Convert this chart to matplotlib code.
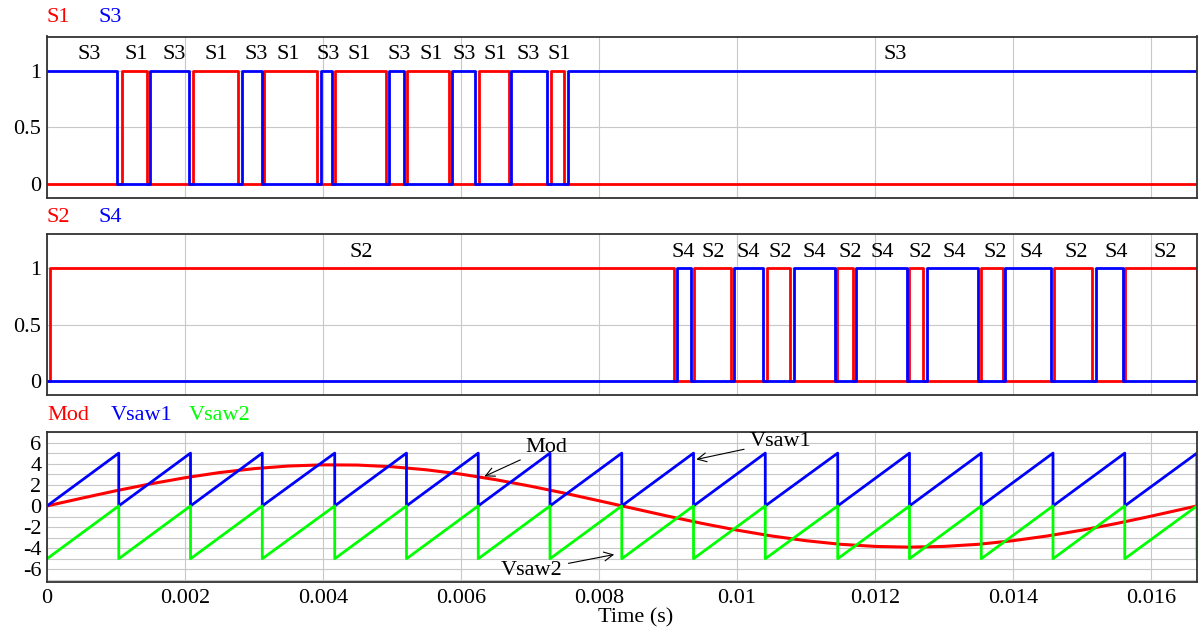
import numpy as np
import matplotlib.pyplot as plt
from matplotlib.ticker import MultipleLocator, FormatStrFormatter

plt.rcParams['font.family'] = ['Liberation Serif', 'DejaVu Serif']
plt.rcParams['axes.unicode_minus'] = False

T_END = 0.016667

# switching edges (s), level toggles at each edge
s1_edges = [0.00108, 0.00145, 0.00212, 0.00277, 0.00315, 0.00391, 0.00418, 0.00491,
            0.00522, 0.00582, 0.00626, 0.00669, 0.00731, 0.00750]
s3_edges = [0.00101, 0.00150, 0.00206, 0.00282, 0.00311, 0.00397, 0.00413, 0.00496,
            0.00517, 0.00587, 0.00621, 0.00673, 0.00725, 0.00755]
s2_edges = [0.00005, 0.00908, 0.00937, 0.00991, 0.01043, 0.01077, 0.01145, 0.01168,
            0.01250, 0.01269, 0.01354, 0.01385, 0.01460, 0.01515, 0.01563, 0.016667]
s4_edges = [0.00913, 0.00933, 0.00995, 0.01038, 0.01082, 0.01142, 0.01173, 0.01246,
            0.01275, 0.01350, 0.01389, 0.01455, 0.01520, 0.01559]
s1_start, s3_start, s2_start, s4_start = 0, 1, 0, 0

# carrier reset instants (s)
saw_drops = [0.00104, 0.00208, 0.00312, 0.00417, 0.00521, 0.00625, 0.00729, 0.00833,
             0.00937, 0.01041, 0.01146, 0.01250, 0.01354, 0.01458, 0.01562, 0.016667]
saw1_lo, saw1_hi = 0, 5
saw2_lo, saw2_hi = -5, 0

# modulating signal, sampled every 0.5 ms
mod_t = [0.0, 0.0005, 0.001, 0.0015, 0.002, 0.0025, 0.003, 0.0035, 0.004, 0.0045,
         0.005, 0.0055, 0.006, 0.0065, 0.007, 0.0075, 0.008, 0.0085, 0.009, 0.0095,
         0.010, 0.0105, 0.011, 0.0115, 0.012, 0.0125, 0.013, 0.0135, 0.014, 0.0145,
         0.015, 0.0155, 0.016, 0.0165, 0.016667]
mod_v = [0.0, 0.73, 1.44, 2.09, 2.67, 3.16, 3.53, 3.78, 3.89, 3.87,
         3.71, 3.42, 3.01, 2.49, 1.88, 1.21, 0.49, -0.24, -0.97, -1.66,
         -2.29, -2.84, -3.29, -3.63, -3.83, -3.90, -3.83, -3.63, -3.29, -2.84,
         -2.29, -1.66, -0.97, -0.24, 0.0]

# labels written over the pulses
top_labels = ['S3', 'S1', 'S3', 'S1', 'S3', 'S1', 'S3', 'S1', 'S3', 'S1', 'S3', 'S1', 'S3', 'S1', 'S3']
top_label_t = [0.00061, 0.00130, 0.00185, 0.00246, 0.00303, 0.00349, 0.00407, 0.00453,
               0.00511, 0.00557, 0.00604, 0.00650, 0.00698, 0.00742, 0.01230]
mid_labels = ['S2', 'S4', 'S2', 'S4', 'S2', 'S4', 'S2', 'S4', 'S2', 'S4', 'S2', 'S4', 'S2', 'S4', 'S2']
mid_label_t = [0.00456, 0.00922, 0.00965, 0.01016, 0.01062, 0.01112, 0.01164, 0.01211,
               0.01265, 0.01315, 0.01375, 0.01426, 0.01492, 0.01550, 0.01620]


def square(edges, start):
    x, y, lvl = [0.0], [start], start
    for e in edges:
        x += [e, e]
        y += [lvl, 1 - lvl]
        lvl = 1 - lvl
    x.append(T_END)
    y.append(lvl)
    return x, y


def saw(drops, lo, hi):
    x, y = [0.0], [lo]
    for d in drops:
        x += [d, d]
        y += [hi, lo]
    return x, y


RED, BLUE, GREEN = '#ff0000', '#0000ff', '#00ff00'
FS = 16
W, H = 1199, 630

fig = plt.figure(figsize=(W / 100, H / 100), dpi=100)


def make_axes(top, bottom):
    ax = fig.add_axes([47 / W, 1 - bottom / H, (1197 - 47) / W, (bottom - top) / H])
    ax.set_xlim(0, T_END)
    ax.xaxis.set_major_locator(MultipleLocator(0.002))
    ax.grid(True, which='both', color='#c8c8c8', lw=0.8)
    ax.set_axisbelow(True)
    ax.tick_params(which='both', length=0, labelsize=FS, pad=4)
    for s in ax.spines.values():
        s.set_color('#333333')
        s.set_linewidth(1.3)
    return ax


ax1 = make_axes(36.5, 198)
ax2 = make_axes(234, 395)
ax3 = make_axes(432, 582)

for ax in (ax1, ax2):
    ax.set_ylim(-0.12, 1.3)
    ax.set_yticks([0, 0.5, 1])
    ax.set_yticklabels(['0', '0.5', '1'])
    ax.tick_params(labelbottom=False)

x, y = square(s1_edges, s1_start)
ax1.plot(x, y, color=RED, lw=2)
x, y = square(s3_edges, s3_start)
ax1.plot(x, y, color=BLUE, lw=2)
for lab, t in zip(top_labels, top_label_t):
    ax1.text(t, 1.14, lab, fontsize=FS, ha='center', va='center')

x, y = square(s2_edges, s2_start)
ax2.plot(x, y, color=RED, lw=2)
x, y = square(s4_edges, s4_start)
ax2.plot(x, y, color=BLUE, lw=2)
for lab, t in zip(mid_labels, mid_label_t):
    ax2.text(t, 1.14, lab, fontsize=FS, ha='center', va='center')

ax3.set_ylim(-7.2, 7.0)
ax3.yaxis.set_major_locator(MultipleLocator(2))
ax3.yaxis.set_minor_locator(MultipleLocator(1))
ax3.xaxis.set_major_formatter(FormatStrFormatter('%g'))
ax3.tick_params(axis='x', pad=5)
ax3.plot(mod_t, mod_v, color=RED, lw=2.2)
x, y = saw(saw_drops, saw1_lo, saw1_hi)
ax3.plot(x, y, color=BLUE, lw=2)
x, y = saw(saw_drops, saw2_lo, saw2_hi)
ax3.plot(x, y, color=GREEN, lw=2)

arrow = dict(arrowstyle='->', color='black', lw=0.8, shrinkA=2, shrinkB=0)
ax3.annotate('Mod', xy=(0.00634, 2.8), xytext=(0.00724, 5.5), fontsize=FS,
             ha='center', va='center', arrowprops=arrow)
ax3.annotate('Vsaw1', xy=(0.00941, 4.4), xytext=(0.01063, 6.1), fontsize=FS,
             ha='center', va='center', arrowprops=arrow)
ax3.annotate('Vsaw2', xy=(0.00822, -4.6), xytext=(0.00703, -6.1), fontsize=FS,
             ha='center', va='center', arrowprops=arrow)

fig.text(636 / W, 1 - 618 / H, 'Time (s)', fontsize=FS, ha='center', va='center')

# legend-like titles above each panel
def title_row(ypix, items):
    for xpix, txt, col in items:
        fig.text(xpix / W, 1 - ypix / H, txt, color=col, fontsize=FS, ha='left', va='center')

title_row(18, [(47, 'S1', RED), (99, 'S3', BLUE)])
title_row(218, [(47, 'S2', RED), (99, 'S4', BLUE)])
title_row(415, [(47, 'Mod', RED), (111, 'Vsaw1', BLUE), (189, 'Vsaw2', GREEN)])

fig.savefig('out.png', dpi=100)
